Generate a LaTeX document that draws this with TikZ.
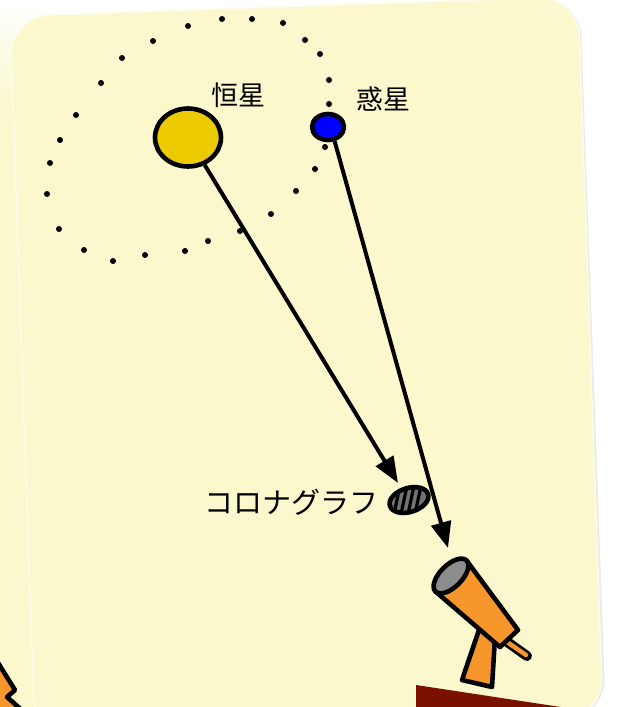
\documentclass[tikz,border=0pt]{standalone}
\usepackage{fontspec}
\usepackage{tikz}
\usepackage{xcolor}
\usetikzlibrary{arrows.meta,shapes.geometric,calc}

\newfontfamily\jp{Noto Sans CJK JP}
\definecolor{card}{RGB}{250,248,204}
\definecolor{sun}{RGB}{235,203,0}
\definecolor{tube}{RGB}{247,150,42}
\definecolor{lens}{RGB}{140,140,140}
\definecolor{floor}{RGB}{122,16,0}

\begin{document}
\begin{tikzpicture}[x=1pt,y=-1pt,
  ink/.style={line width=4.6pt,line join=round},
  ray/.style={line width=4pt,-{Triangle[length=26pt,width=20pt]}},
  lbl/.style={font=\jp\fontsize{27}{32}\selectfont,inner sep=0pt}]
  \useasboundingbox (0,0) rectangle (616,707);
  \clip (0,0) rectangle (616,707);
  \fill[white] (0,0) rectangle (616,707);
  % card behind, and the card itself
  \shade[top color=white,bottom color=card] (0,0) rectangle (40,110);
  \fill[card] (0,110) rectangle (40,707);
  \fill[black!8,rounded corners=40] (12,17) -- (580,-3) -- (606,718) -- (37,738) -- cycle;
  \filldraw[fill=card,draw=white!55!card,line width=1.5pt,rounded corners=40]
    (10,16.5) -- (578,-3.5) -- (603,718) -- (35,738) -- cycle;
  \filldraw[fill=tube,ink] (-5,658) -- (15,690) -- (7,697) -- (24,712) -- (-5,712) -- cycle;
  \fill[floor] (416,685) -- (600,713) -- (416,713) -- cycle;

  % orbit
  \foreach \p in {(222,19),(252,19),(283,23),(188,26),(153,41),(305,40),(320,54),
    (122,58),(329,80),(101,83),(329,104),(76,115),(60,140),(50,163),(325,147),
    (315,169),(47,194),(296,191),(271,214),(59,229),(240,231),(208,241),(84,250),
    (185,251),(145,255),(113,261)}
    \fill \p circle (3);

  \node[ellipse,draw,ink,fill=sun,minimum width=66pt,minimum height=58pt,inner sep=0pt] (star) at (188,137.5) {};
  \node[ellipse,draw,ink,fill=blue,minimum width=32pt,minimum height=26pt,inner sep=0pt] (planet) at (328,127) {};
  \node[lbl] (starname) at (238,95) {恒星};
  \node[lbl] (planetname) at (383,99) {惑星};

  \coordinate (cg) at (409,500);
  \coordinate (cgtip) at (398,483);
  \coordinate (tstip) at (448,548);

  % coronagraph
  \begin{scope}
    \clip (cg) circle [x radius=20, y radius=12, rotate=17];
    \fill[black!55] (cg) circle [x radius=20, y radius=12, rotate=17];
    \foreach \dx in {-12,-5,2,9}
      \draw[line width=3.2pt] ($(cg)+(\dx-3,14)$) -- ($(cg)+(\dx+3,-14)$);
  \end{scope}
  \draw[ink] (cg) circle [x radius=20, y radius=12, rotate=17];
  \node[lbl,font=\jp\fontsize{29}{34}\selectfont] (cgname) at (291,502) {コロナグラフ};

  % telescope
  \filldraw[fill=tube,ink] (480,627) -- (495,637) -- (492,687) -- (462,680) -- cycle;
  \draw[line width=10pt,line cap=round] (506,641) -- (527,656);
  \draw[tube,line width=4.5pt,line cap=round] (507,642) -- (526,655);
  \filldraw[fill=tube,ink] (466.5,560.5) -- (518,630) -- (500,647) -- (435.5,591.5) -- cycle;
  \filldraw[fill=lens,ink] (451,576) circle [x radius=22, y radius=11, rotate=45];

  \draw[ray] (star) -- (cgtip);
  \draw[ray] (planet.-65) -- (tstip);
\end{tikzpicture}
\end{document}
